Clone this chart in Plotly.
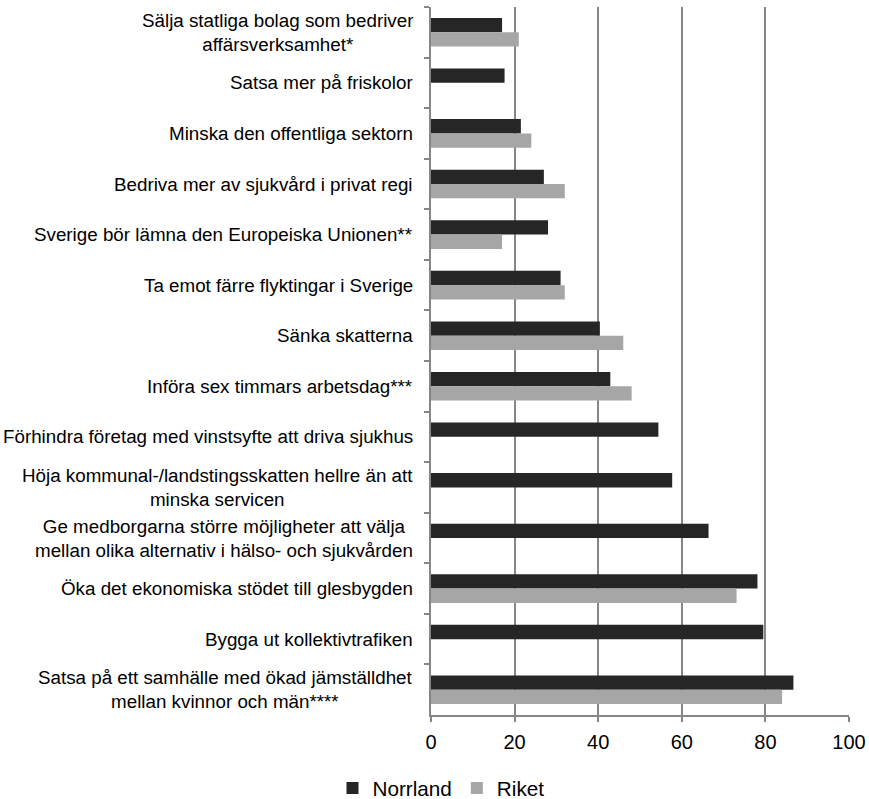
import plotly.graph_objects as go

categories = [
    "Sälja statliga bolag som bedriver<br>affärsverksamhet*",
    "Satsa mer på friskolor",
    "Minska den offentliga sektorn",
    "Bedriva mer av sjukvård i privat regi",
    "Sverige bör lämna den Europeiska Unionen**",
    "Ta emot färre flyktingar i Sverige",
    "Sänka skatterna",
    "Införa sex timmars arbetsdag***",
    "Förhindra företag med vinstsyfte att driva sjukhus",
    "Höja kommunal-/landstingsskatten hellre än att<br>minska servicen",
    "Ge medborgarna större möjligheter att välja<br>mellan olika alternativ i hälso- och sjukvården",
    "Öka det ekonomiska stödet till glesbygden",
    "Bygga ut kollektivtrafiken",
    "Satsa på ett samhälle med ökad jämställdhet<br>mellan kvinnor och män****",
]
norrland = [17.0, 17.6, 21.5, 27.0, 28.0, 31.0, 40.4, 42.9, 54.4, 57.7, 66.4, 78.1, 79.5, 86.7]
riket = [21.0, None, 24.0, 32.0, 17.0, 32.0, 46.0, 48.0, None, None, None, 73.1, None, 84.0]
x_ticks = [0, 20, 40, 60, 80, 100]

FONT = "Liberation Sans, Arial, sans-serif"

fig = go.Figure()
fig.add_trace(go.Bar(y=categories, x=norrland, name="Norrland", orientation="h",
                     marker=dict(color="#262626", line=dict(width=0))))
fig.add_trace(go.Bar(y=categories, x=riket, name="Riket", orientation="h",
                     marker=dict(color="#a6a6a6", line=dict(width=0))))

for c in categories:
    fig.add_annotation(x=0, xref="paper", y=c, yref="y", text=c, showarrow=False,
                       xanchor="right", yanchor="middle", align="center", xshift=-16,
                       font=dict(family=FONT, size=18.8, color="#000000"))

fig.update_layout(
    width=869, height=799,
    margin=dict(l=431, r=20, t=7, b=84, autoexpand=False),
    paper_bgcolor="white", plot_bgcolor="white",
    barmode="group", bargap=0.434, bargroupgap=0,
    font=dict(family=FONT, size=18.8, color="#000000"),
    showlegend=True,
    legend=dict(orientation="h", x=-0.2356, xanchor="left", y=-0.1031, yanchor="middle",
                traceorder="normal", font=dict(family=FONT, size=20.7, color="#000000"),
                itemwidth=30),
    xaxis=dict(range=[0, 100], tickvals=x_ticks, showgrid=True, gridcolor="#868686",
               gridwidth=1.5, showline=True, linecolor="#868686", linewidth=1.5,
               ticks="outside", ticklen=5, tickcolor="#868686", tickwidth=1.5,
               ticklabelstandoff=3,
               zeroline=False, tickfont=dict(family=FONT, size=20, color="#000000")),
    yaxis=dict(autorange="reversed", type="category", showticklabels=False,
               showline=True, linecolor="#868686", linewidth=1.5,
               ticks="outside", ticklen=5, tickcolor="#868686", tickwidth=1.5,
               tickson="boundaries", showgrid=False, zeroline=False),
)

fig.write_html(
    "out.html",
    config=dict(displayModeBar=False),
    post_script="document.body.style.margin='0';document.body.style.overflow='hidden';",
)
